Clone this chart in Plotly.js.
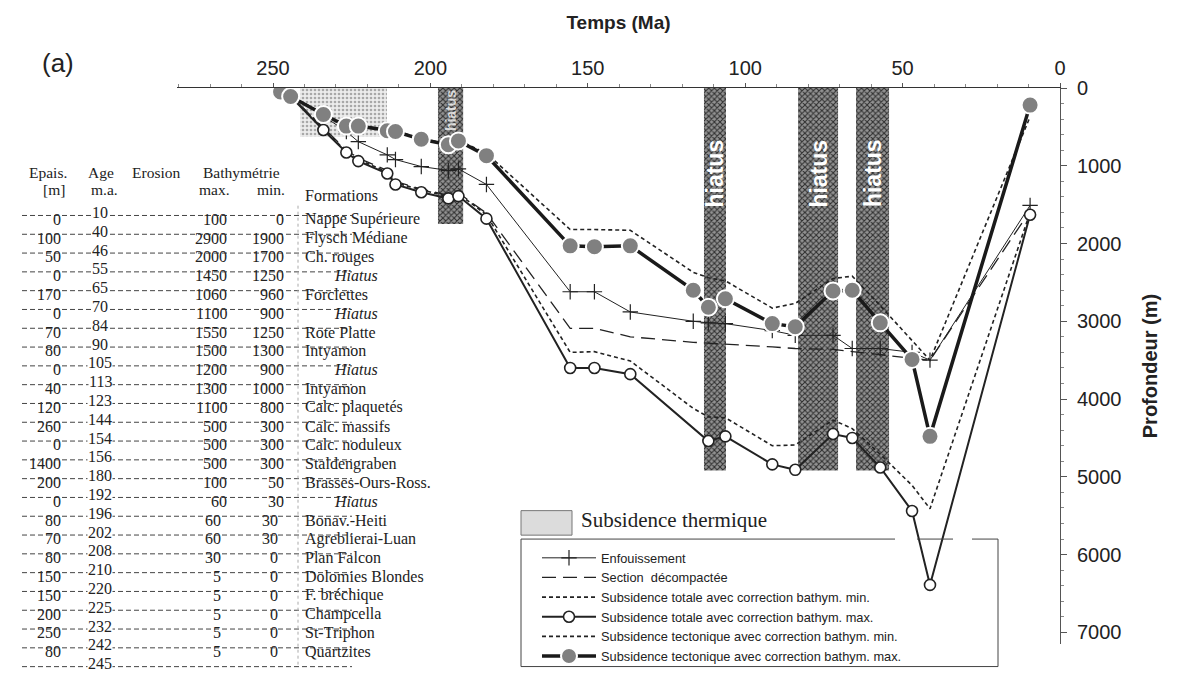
<!DOCTYPE html>
<html><head><meta charset="utf-8">
<script src="https://cdn.plot.ly/plotly-3.0.1.min.js"></script>
<style>html,body{margin:0;padding:0;background:#fff}#chart{width:1189px;height:683px}</style>
</head><body><div id="chart"></div>
<script>
// ---------------- data ----------------
const ages = [247.6, 244.4, 234.0, 226.7, 222.9, 213.7, 211.1, 202.9, 194.3, 191.1, 182.2, 155.6, 147.9, 136.5, 116.5, 111.7, 106.3, 91.4, 84.1, 72.1, 66.0, 57.1, 47.0, 41.3, 9.5];
const enfouissement = [40, 100, 360, 560, 690, 860, 920, 1010, 1060, 1040, 1240, 2620, 2620, 2880, 3000, 3020, 3030, 3120, 3180, 3180, 3350, 3350, 3400, 3500, 1510];
const sectionDecomp = [50, 100, 510, 800, 900, 1060, 1200, 1300, 1380, 1350, 1610, 3090, 3090, 3200, 3270, 3280, 3290, 3330, 3350, 3360, 3390, 3430, 3470, 3500, 1580];
const totalMin = [50, 100, 520, 820, 920, 1080, 1220, 1310, 1400, 1360, 1630, 3400, 3390, 3510, 4120, 4230, 4240, 4600, 4590, 4270, 4380, 4710, 5110, 5410, 1600];
const totalMax = [50, 110, 540, 830, 940, 1100, 1240, 1340, 1420, 1390, 1680, 3600, 3600, 3680, null, 4540, 4480, 4840, 4910, 4450, 4500, 4880, 5440, 6390, 1630];
const tectMin = [50, 100, 330, 480, 480, 540, 550, 650, 720, 670, 840, 1820, 1820, 1830, 2370, 2440, 2480, 2830, 2770, 2450, 2420, 2800, 3240, 3500, 370];
const tectMax = [50, 110, 340, 490, 490, 550, 560, 660, 730, 680, 870, 2030, 2040, 2030, 2600, 2820, 2710, 3030, 3070, 2610, 2600, 3020, 3490, 4480, 220];

const hiatusStart = [197.6, 113.1, 83.2, 64.8];
const hiatusEnd   = [189.6, 106.1, 70.5, 54.3];
const hiatusDepth = [1750, 4920, 4920, 4920];
const thermalStart = [241.4];
const thermalEnd = [213.8];
const thermalDepth = [630];

// table
const tableAges = [10, 40, 46, 55, 65, 70, 84, 90, 105, 113, 123, 144, 154, 156, 180, 192, 196, 202, 208, 210, 220, 225, 232, 242, 245];
const epais = [0, 100, 50, 0, 170, 0, 70, 80, 0, 40, 120, 260, 0, 1400, 200, 0, 80, 70, 80, 150, 150, 200, 250, 80];
const bathyMax = [100, 2900, 2000, 1450, 1060, 1100, 1550, 1500, 1200, 1300, 1100, 500, 500, 500, 100, 60, 60, 60, 30, 5, 5, 5, 5, 5];
const bathyMin = [0, 1900, 1700, 1250, 960, 900, 1250, 1300, 900, 1000, 800, 300, 300, 300, 50, 30, 30, 30, 0, 0, 0, 0, 0, 0];
const formations = ['Nappe Supérieure', 'Flysch Médiane', 'Ch. rouges', 'Hiatus', 'Forclettes', 'Hiatus', 'Rote Platte', 'Intyamon', 'Hiatus', 'Intyamon', 'Calc. plaquetés', 'Calc. massifs', 'Calc. noduleux', 'Staldengraben', 'Brasses-Ours-Ross.', 'Hiatus', 'Bonav.-Heiti', 'Agreblierai-Luan', 'Plan Falcon', 'Dolomies Blondes', 'F. bréchique', 'Champcella', 'St-Triphon', 'Quartzites'];

const seriesNames = ['Enfouissement', 'Section  décompactée', 'Subsidence totale avec correction bathym. min.', 'Subsidence totale avec correction bathym. max.', 'Subsidence tectonique avec correction bathym. min.', 'Subsidence tectonique avec correction bathym. max.'];

// ---------------- layout helpers ----------------
const W = 1189, H = 683;
const M = {l: 177, r: 129, t: 88, b: 28};
const PW = W - M.l - M.r, PH = H - M.t - M.b;
const X = px => (px - M.l) / PW;
const Y = py => (H - M.b - py) / PH;
const INK = '#222';
const SERIF = 'Liberation Serif, Times New Roman, serif';
const SANS = 'Liberation Sans, Arial, sans-serif';

const traces = [];
traces.push({
  type: 'bar', x: thermalStart.map((s, i) => (s + thermalEnd[i]) / 2), width: thermalStart.map((s, i) => s - thermalEnd[i]),
  y: thermalDepth, base: 0, showlegend: false, hoverinfo: 'skip',
  marker: {color: '#e4e4e4', line: {width: 0}, pattern: {shape: '.', fgcolor: '#a8a8a8', bgcolor: '#ececec', size: 4, solidity: 0.35}}
});
traces.push({
  type: 'bar', x: hiatusStart.map((s, i) => (s + hiatusEnd[i]) / 2), width: hiatusStart.map((s, i) => s - hiatusEnd[i]),
  y: hiatusDepth, base: 0, showlegend: false, hoverinfo: 'skip',
  marker: {color: '#777', line: {width: 0}, pattern: {shape: 'x', fgcolor: '#2e2e2e', bgcolor: '#929292', size: 4, solidity: 0.45}}
});

traces.push({type: 'scatter', mode: 'lines', x: ages, y: totalMin, name: seriesNames[2], legendrank: 3,
  line: {color: INK, width: 1.6, dash: '4px,3px'}});
traces.push({type: 'scatter', mode: 'lines', x: ages, y: tectMin, name: seriesNames[4], legendrank: 5,
  line: {color: INK, width: 1.6, dash: '4px,3px'}});
traces.push({type: 'scatter', mode: 'lines', x: ages, y: sectionDecomp, name: seriesNames[1], legendrank: 2,
  line: {color: INK, width: 1.3, dash: '14px,7px'}});
traces.push({type: 'scatter', mode: 'lines+markers', x: ages, y: enfouissement, name: seriesNames[0], legendrank: 1,
  line: {color: INK, width: 1}, marker: {symbol: 'cross-thin-open', size: 11, color: INK, line: {width: 1.2, color: INK}}});
traces.push({type: 'scatter', mode: 'lines+markers', x: ages, y: totalMax, name: seriesNames[3], legendrank: 4, connectgaps: true,
  line: {color: INK, width: 2}, marker: {symbol: 'circle', size: 11, color: 'white', line: {color: INK, width: 1.6}}});
traces.push({type: 'scatter', mode: 'lines+markers', x: ages, y: tectMax, name: seriesNames[5], legendrank: 6,
  line: {color: '#1a1a1a', width: 3.5}, marker: {symbol: 'circle', size: 17, color: '#808080', line: {color: 'white', width: 2}}});

// ---------------- annotations & shapes ----------------
const ann = [];
const shapes = [];
const tf = (size, extra) => Object.assign({family: SERIF, size: size, color: INK}, extra || {});

hiatusStart.forEach((s, i) => {
  const c = (s + hiatusEnd[i]) / 2;
  if (i === 0) {
    ann.push({x: c, y: 290, xref: 'x', yref: 'y', text: 'hiatus', showarrow: false, textangle: -90,
      font: {family: SANS, size: 14, weight: 'bold', color: 'rgba(255,255,255,0.75)'}});
  } else {
    ann.push({x: c, y: 1100, xref: 'x', yref: 'y', text: 'hiatus', showarrow: false, textangle: -90,
      font: {family: SANS, size: 23, weight: 'bold', color: '#ffffff'}});
  }
});

ann.push({x: X(40), y: Y(45), xref: 'paper', yref: 'paper', text: '(a)', showarrow: false, font: {family: SANS, size: 26, color: INK}});

// table headers
const hdr = [['Epais.', 48, 174], ['[m]', 54, 192], ['Age', 101, 174], ['m.a.', 104, 192], ['Erosion', 156, 174], ['Bathymétrie', 241, 174], ['max.', 214, 192], ['min.', 271, 192]];
hdr.forEach(h => ann.push({x: X(h[1]), y: Y(h[2]), xref: 'paper', yref: 'paper', text: h[0], showarrow: false, font: tf(15.5), xanchor: 'center', yanchor: 'middle'}));
ann.push({x: X(303), y: Y(198), xref: 'paper', yref: 'paper', text: 'Formations', showarrow: false, font: tf(16), xanchor: 'left', yanchor: 'middle'});

const rowStep = 19.17;
tableAges.forEach((a, i) => {
  const yA = 215 + rowStep * i;
  shapes.push({type: 'line', xref: 'paper', yref: 'paper', x0: X(22), x1: X(352), y0: Y(yA + 3), y1: Y(yA + 3),
    line: {color: '#444', width: 1, dash: '5px,3px'}});
  ann.push({x: X(100), y: Y(yA), xref: 'paper', yref: 'paper', text: String(a), showarrow: false, font: tf(16),
    xanchor: 'center', yanchor: 'middle', bgcolor: 'white', borderpad: 0});
});
formations.forEach((f, i) => {
  const yV = 222 + rowStep * i;
  const shift = i >= 16 ? 6 : 0;
  ann.push({x: X(63), y: Y(yV), xref: 'paper', yref: 'paper', text: String(epais[i]), showarrow: false, font: tf(16), xanchor: 'right', yanchor: 'middle'});
  ann.push({x: X(229 - shift), y: Y(yV), xref: 'paper', yref: 'paper', text: String(bathyMax[i]), showarrow: false, font: tf(16), xanchor: 'right', yanchor: 'middle'});
  ann.push({x: X(286 - shift), y: Y(yV), xref: 'paper', yref: 'paper', text: String(bathyMin[i]), showarrow: false, font: tf(16), xanchor: 'right', yanchor: 'middle'});
  const isH = f === 'Hiatus';
  ann.push({x: X(isH ? 332 : 303), y: Y(yV), xref: 'paper', yref: 'paper', text: isH ? '<i>' + f + '</i>' : f, showarrow: false, font: tf(16), xanchor: 'left', yanchor: 'middle'});
});
shapes.push({type: 'line', xref: 'paper', yref: 'paper', x0: X(298), x1: X(298), y0: Y(208), y1: Y(676), line: {color: '#aaa', width: 1, dash: 'dot'}});

// thermal legend swatch
shapes.push({type: 'rect', xref: 'paper', yref: 'paper', x0: X(521), x1: X(572), y0: Y(519), y1: Y(544), fillcolor: '#dcdcdc', line: {color: '#777', width: 1}});
ann.push({x: X(579), y: Y(529), xref: 'paper', yref: 'paper', text: 'Subsidence thermique', showarrow: false, font: tf(21), xanchor: 'left', yanchor: 'middle'});

// legend frame (top edge broken where curves cross)
const frame = [[521, 548, 895, 548], [917, 548, 953, 548], [972, 548, 998, 548], [521, 548, 521, 678], [998, 548, 998, 678], [521, 678, 998, 678]];
frame.forEach(s => shapes.push({type: 'line', xref: 'paper', yref: 'paper', x0: X(s[0]), y0: Y(s[1]), x1: X(s[2]), y1: Y(s[3]), line: {color: '#444', width: 1}}));

const layout = {
  width: W, height: H, margin: M, paper_bgcolor: 'white', plot_bgcolor: 'rgba(0,0,0,0)',
  barmode: 'overlay', hovermode: false, showlegend: true,
  font: {family: SANS, color: INK},
  xaxis: {
    range: [280.5, 0], side: 'top', showline: true, linecolor: '#333', linewidth: 1.2,
    ticks: 'outside', ticklen: 4, tickcolor: '#555', tickmode: 'linear', tick0: 0, dtick: 50,
    tickfont: {family: SANS, size: 20, color: INK}, showgrid: false, zeroline: false,
    minor: {dtick: 10, ticks: 'outside', ticklen: 3, tickcolor: '#888', showgrid: false},
    title: {text: 'Temps (Ma)', font: {family: SANS, size: 19, weight: 'bold', color: INK}, standoff: 22}
  },
  yaxis: {
    range: [7150, 0], side: 'right', showline: true, linecolor: '#555', linewidth: 1,
    ticks: 'outside', ticklen: 6, tickcolor: '#555', tickmode: 'linear', tick0: 0, dtick: 1000,
    tickfont: {family: SANS, size: 20, color: INK}, showgrid: false, zeroline: false, ticklabelstandoff: 6,
    minor: {dtick: 200, ticks: 'outside', ticklen: 3, tickcolor: '#888', showgrid: false},
    title: {text: 'Profondeur (m)', font: {family: SANS, size: 20, weight: 'bold', color: INK}, standoff: 22}
  },
  legend: {x: X(537), y: Y(552), xanchor: 'left', yanchor: 'top', bgcolor: 'rgba(0,0,0,0)', borderwidth: 0,
    font: {family: SANS, size: 12.8, color: INK}, itemwidth: 54, tracegroupgap: 0},
  annotations: ann, shapes: shapes
};

Plotly.newPlot('chart', traces, layout, {staticPlot: true, displayModeBar: false});
</script></body></html>
